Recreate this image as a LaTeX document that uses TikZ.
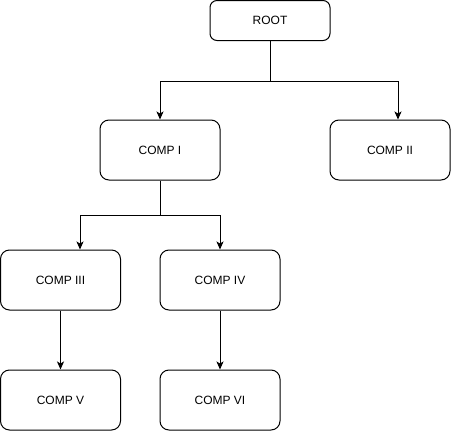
\documentclass[tikz,border=0pt]{standalone}
\usepackage{fontspec}
\setmainfont{Liberation Sans}
\usetikzlibrary{arrows.meta}

\begin{document}
\begin{tikzpicture}[x=1pt,y=1pt,
  comp/.style={draw,line width=1pt,rounded corners=9pt,minimum width=120pt,minimum height=60pt,font=\fontsize{12}{14}\selectfont},
  arr/.style={line width=1pt,-{Stealth[length=8pt,width=7pt,inset=2pt]}}]
\useasboundingbox (0,0) rectangle (451,-431);
\node[comp,minimum height=40pt,rounded corners=7pt] (root) at (270,-20.5) {ROOT};
\node[comp] (c1) at (160,-150) {COMP I};
\node[comp] (c2) at (390,-150) {COMP II};
\node[comp] (c3) at (60.5,-280) {COMP III};
\node[comp] (c4) at (220,-280) {COMP IV};
\node[comp] (c5) at (60.5,-400) {COMP V};
\node[comp] (c6) at (220,-400) {COMP VI};
\draw[arr] (root.south) -- ++(0,-40) coordinate (j1) -| (c1.north);
\draw[arr] (j1) -| ([xshift=8pt]c2.north);
\draw[arr] (c1.south) -- ++(0,-35) coordinate (j2) -| ([xshift=19.5pt]c3.north);
\draw[arr] (j2) -| (c4.north);
\draw[arr] (c3) -- (c5);
\draw[arr] (c4) -- (c6);
\end{tikzpicture}
\end{document}
